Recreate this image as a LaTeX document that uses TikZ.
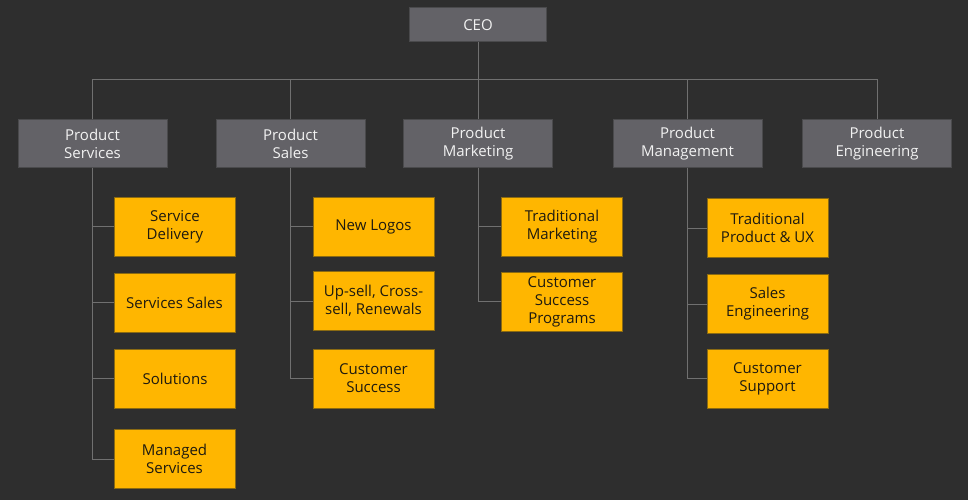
\documentclass[tikz,border=0pt]{standalone}
\usepackage{fontspec}
\setmainfont{Open Sans}
\definecolor{bg}{HTML}{2E2E2E}
\definecolor{grayfill}{HTML}{636267}
\definecolor{grayline}{HTML}{4A4A4C}
\definecolor{conn}{HTML}{707070}
\definecolor{yfill}{HTML}{FFB600}
\definecolor{yline}{HTML}{8A6A12}
\definecolor{ytext}{HTML}{1E1A10}
\tikzset{
  head/.style={draw=grayline, line width=1pt, fill=grayfill, text=white!95!black, inner sep=0pt,
    minimum width=149pt, minimum height=47pt, align=center, font=\fontsize{15}{18}\selectfont},
  ceobox/.style={head, minimum width=137pt, minimum height=34pt},
  sub/.style={draw=yline, line width=0.8pt, fill=yfill, text=ytext, inner sep=0pt,
    minimum width=121pt, minimum height=59pt, align=center, font=\fontsize{15}{18}\selectfont},
  link/.style={draw=conn, line width=1pt}
}
\begin{document}
\begin{tikzpicture}[x=1pt,y=-1pt]
\fill[bg] (0,0) rectangle (968,500);
\useasboundingbox (0,0) rectangle (968,500);

\node[ceobox] (ceo) at (478,25) {CEO};
\coordinate (bus) at (478,80);

\node[head] (ps) at (92.5,143.5) {Product\\Services};
\node[head] (psa) at (290.5,143.5) {Product\\Sales};
\node[head] (pm) at (478,143.5) {Product\\Marketing};
\node[head] (pmg) at (687.5,143.5) {Product\\Management};
\node[head] (pe) at (877,143.5) {Product\\Engineering};

\draw[link] (ceo.south) -- (bus);
\foreach \n in {ps,psa,pm,pmg,pe} { \draw[link] (\n.north) |- (bus); }

% Services column
\node[sub] (sd) at (175,226.5) {Service\\Delivery};
\node[sub] (ss) at (174.5,302.5) {Services Sales};
\node[sub] (so) at (175,378.5) {Solutions};
\node[sub] (ms) at (174.5,459) {Managed\\Services};
% Sales column
\node[sub] (nl) at (373.5,226.5) {New Logos};
\node[sub] (uc) at (373.5,301) {Up-sell, Cross-\\sell, Renewals};
\node[sub] (cs) at (373.5,378.5) {Customer\\Success};
% Marketing column
\node[sub] (tm) at (562,226.5) {Traditional\\Marketing};
\node[sub] (csp) at (562,301.5) {Customer\\Success\\Programs};
% Management column
\node[sub] (tp) at (767.5,228) {Traditional\\Product \& UX};
\node[sub] (se) at (767.5,304) {Sales\\Engineering};
\node[sub] (csu) at (767.5,378.5) {Customer\\Support};

\foreach \c in {sd,ss,so,ms} { \draw[link] ([xshift=-0.5pt]ps.south) |- (\c.west); }
\foreach \c in {nl,uc,cs} { \draw[link] (psa.south) |- (\c.west); }
\foreach \c in {tm,csp} { \draw[link] (pm.south) |- (\c.west); }
\foreach \c in {tp,se,csu} { \draw[link] (pmg.south) |- (\c.west); }
\end{tikzpicture}
\end{document}
